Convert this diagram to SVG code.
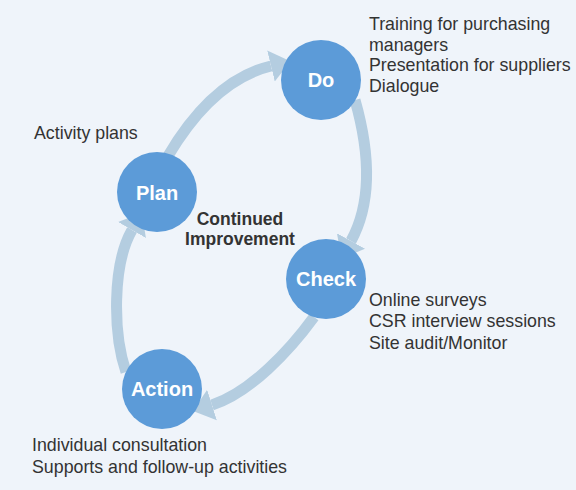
<svg xmlns="http://www.w3.org/2000/svg" width="576" height="490" viewBox="0 0 576 490">
<style>
.node{fill:#5c9bd8}
.nl{font-family:"Liberation Sans",Arial,sans-serif;font-weight:bold;font-size:20px;fill:#ffffff;text-anchor:middle}
.t{font-family:"Liberation Sans",Arial,sans-serif;font-size:17.8px;fill:#333333}
.c{font-family:"Liberation Sans",Arial,sans-serif;font-weight:bold;font-size:17.5px;fill:#333333;text-anchor:middle}
.arr{fill:none;stroke:#b4cde0;stroke-width:11;marker-end:url(#ah)}
</style>
<defs>
<marker id="ah" markerUnits="userSpaceOnUse" markerWidth="22" markerHeight="34" refX="0" refY="16" orient="auto" viewBox="0 0 22 32">
<path d="M0,0 L20,16 L0,32 Z" fill="#b4cde0"/>
</marker>
</defs>
<rect x="0" y="0" width="576" height="490" fill="#eff4fa"/>
<g id="connectors">
<path class="arr" d="M168,156 Q213,80 271,66"/>
<path class="arr" d="M355,100 Q380,188 351,241"/>
<path class="arr" d="M314,317 C290,350 250,393 212,405"/>
<path class="arr" d="M126,372 C113,334 112,265 132,230"/>
</g>
<g id="plan">
<circle class="node" cx="157" cy="192" r="40"/>
<text class="nl" x="157" y="200">Plan</text>
</g>
<g id="do">
<circle class="node" cx="321" cy="80" r="40"/>
<text class="nl" x="321" y="87">Do</text>
</g>
<g id="check">
<circle class="node" cx="326" cy="279" r="40"/>
<text class="nl" x="326" y="286">Check</text>
</g>
<g id="action">
<circle class="node" cx="162" cy="389" r="40"/>
<text class="nl" x="162" y="396">Action</text>
</g>
<g id="center-label">
<text class="c" x="240" y="225">Continued</text>
<text class="c" x="240" y="245">Improvement</text>
</g>
<g id="plan-notes">
<text class="t" x="34" y="139">Activity plans</text>
</g>
<g id="do-notes">
<text class="t" x="369" y="30">Training for purchasing</text>
<text class="t" x="369" y="51">managers</text>
<text class="t" x="369" y="71">Presentation for suppliers</text>
<text class="t" x="369" y="92">Dialogue</text>
</g>
<g id="check-notes">
<text class="t" x="369" y="306">Online surveys</text>
<text class="t" x="369" y="327">CSR interview sessions</text>
<text class="t" x="369" y="349">Site audit/Monitor</text>
</g>
<g id="action-notes">
<text class="t" x="32" y="451">Individual consultation</text>
<text class="t" x="32" y="473">Supports and follow-up activities</text>
</g>
</svg>
